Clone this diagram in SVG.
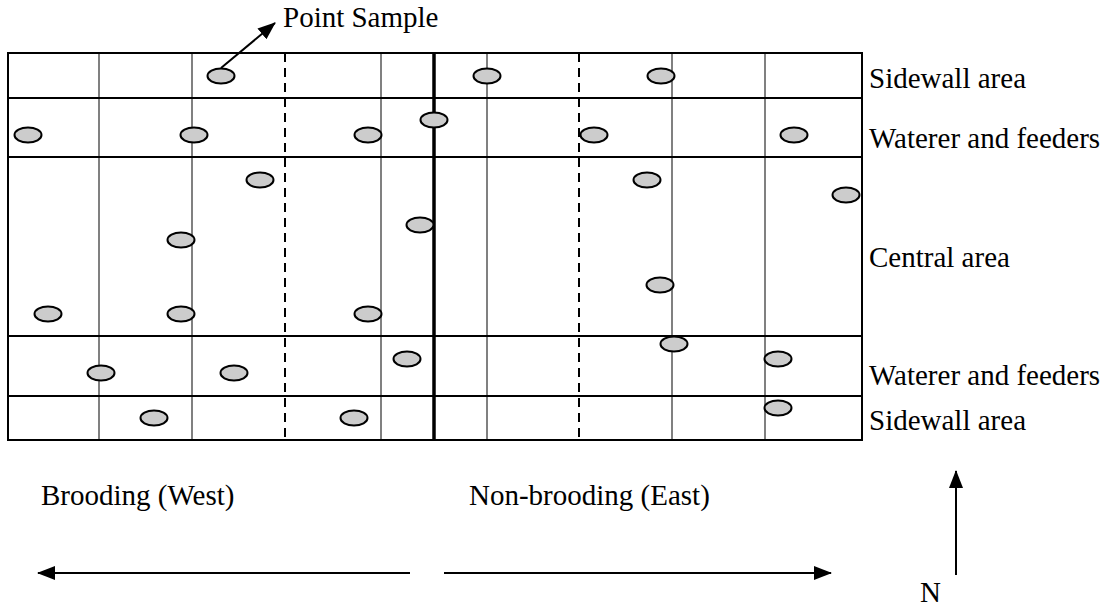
<svg xmlns="http://www.w3.org/2000/svg" width="1113" height="609" viewBox="0 0 1113 609">
<style>
.grid{stroke:#000;stroke-width:2;fill:none}
.gray{stroke:#808080;stroke-width:2}
.dash{stroke:#000;stroke-width:2;stroke-dasharray:9,6}
.pt{fill:#cccccc;stroke:#000;stroke-width:2}
.lbl{font-family:"Liberation Serif","Times New Roman",serif;font-size:29px;fill:#000}
.arr{stroke:#000;stroke-width:2;fill:none}
</style>
<defs>
<marker id="ahb" markerWidth="18" markerHeight="14" refX="17" refY="7" orient="auto" markerUnits="userSpaceOnUse" viewBox="0 0 18 14">
<path d="M0,0 L18,7 L0,14 z" fill="#000"/>
</marker>
</defs>
<g id="grid">
<line class="gray" x1="99" y1="53" x2="99" y2="440"/>
<line class="gray" x1="192" y1="53" x2="192" y2="440"/>
<line class="dash" x1="285" y1="53" x2="285" y2="440"/>
<line class="gray" x1="381" y1="53" x2="381" y2="440"/>
<line class="gray" x1="487" y1="53" x2="487" y2="440"/>
<line class="dash" x1="579" y1="53" x2="579" y2="440"/>
<line class="gray" x1="672" y1="53" x2="672" y2="440"/>
<line class="gray" x1="765" y1="53" x2="765" y2="440"/>
<line class="grid" x1="8" y1="98" x2="862" y2="98"/>
<line class="grid" x1="8" y1="157" x2="862" y2="157"/>
<line class="grid" x1="8" y1="336" x2="862" y2="336"/>
<line class="grid" x1="8" y1="396" x2="862" y2="396"/>
<rect class="grid" x="8" y="53" width="854" height="387"/>
<line stroke="#000" stroke-width="3.5" x1="434" y1="53" x2="434" y2="440"/>
</g>
<g id="points">
<ellipse class="pt" cx="221" cy="76" rx="13.5" ry="7.5"/>
<ellipse class="pt" cx="487" cy="76" rx="13.5" ry="7.5"/>
<ellipse class="pt" cx="661" cy="76" rx="13.5" ry="7.5"/>
<ellipse class="pt" cx="28" cy="135" rx="13.5" ry="7.5"/>
<ellipse class="pt" cx="194" cy="135" rx="13.5" ry="7.5"/>
<ellipse class="pt" cx="368" cy="135" rx="13.5" ry="7.5"/>
<ellipse class="pt" cx="434" cy="120" rx="13.5" ry="7.5"/>
<ellipse class="pt" cx="594" cy="135" rx="13.5" ry="7.5"/>
<ellipse class="pt" cx="794" cy="135" rx="13.5" ry="7.5"/>
<ellipse class="pt" cx="260" cy="180" rx="13.5" ry="7.5"/>
<ellipse class="pt" cx="647" cy="180" rx="13.5" ry="7.5"/>
<ellipse class="pt" cx="846" cy="195" rx="13.5" ry="7.5"/>
<ellipse class="pt" cx="181" cy="240" rx="13.5" ry="7.5"/>
<ellipse class="pt" cx="420" cy="225" rx="13.5" ry="7.5"/>
<ellipse class="pt" cx="660" cy="285" rx="13.5" ry="7.5"/>
<ellipse class="pt" cx="48" cy="314" rx="13.5" ry="7.5"/>
<ellipse class="pt" cx="181" cy="314" rx="13.5" ry="7.5"/>
<ellipse class="pt" cx="368" cy="314" rx="13.5" ry="7.5"/>
<ellipse class="pt" cx="101" cy="373" rx="13.5" ry="7.5"/>
<ellipse class="pt" cx="234" cy="373" rx="13.5" ry="7.5"/>
<ellipse class="pt" cx="407" cy="359" rx="13.5" ry="7.5"/>
<ellipse class="pt" cx="674" cy="344" rx="13.5" ry="7.5"/>
<ellipse class="pt" cx="778" cy="359" rx="13.5" ry="7.5"/>
<ellipse class="pt" cx="154" cy="418" rx="13.5" ry="7.5"/>
<ellipse class="pt" cx="354" cy="418" rx="13.5" ry="7.5"/>
<ellipse class="pt" cx="778" cy="408" rx="13.5" ry="7.5"/>
</g>
<g id="connectors">
<line class="arr" x1="221" y1="68" x2="275" y2="23" marker-end="url(#ahb)"/>
<line class="arr" x1="410" y1="573" x2="38" y2="573" marker-end="url(#ahb)"/>
<line class="arr" x1="444" y1="573" x2="831" y2="573" marker-end="url(#ahb)"/>
<line class="arr" x1="956" y1="575" x2="956" y2="471" marker-end="url(#ahb)"/>
</g>
<g id="labels">
<text class="lbl" x="283" y="27">Point Sample</text>
<text class="lbl" x="869" y="88">Sidewall area</text>
<text class="lbl" x="869" y="148">Waterer and feeders</text>
<text class="lbl" x="869" y="267">Central area</text>
<text class="lbl" x="869" y="385">Waterer and feeders</text>
<text class="lbl" x="869" y="430">Sidewall area</text>
<text class="lbl" x="41" y="505">Brooding (West)</text>
<text class="lbl" x="469" y="505">Non-brooding (East)</text>
<text class="lbl" x="920" y="602">N</text>
</g>
</svg>
